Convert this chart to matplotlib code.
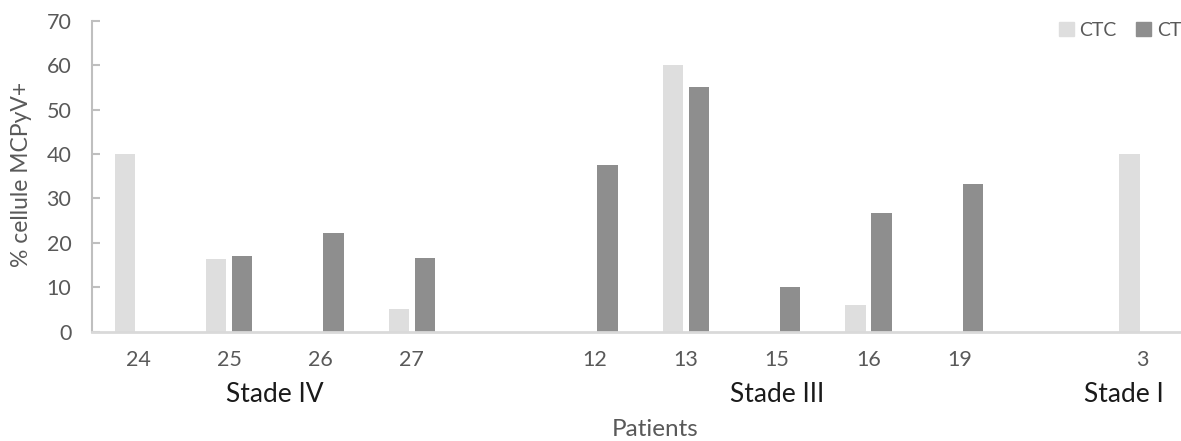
import matplotlib
matplotlib.use("Agg")
import matplotlib.pyplot as plt
import matplotlib.transforms as mtransforms
from matplotlib.patches import Patch

# ---- data ----
patients = ['24', '25', '26', '27', '12', '13', '15', '16', '19', '3']
stages = ['Stade IV'] * 4 + ['Stade III'] * 5 + ['Stade I']
ctc = [40, 16.4, 0, 5, 0, 60, 0, 6, 0, 40]
ct = [0, 17, 22.2, 16.7, 37.5, 55, 10, 26.7, 33.3, 0]
y_ticks = [0, 10, 20, 30, 40, 50, 60, 70]

plt.rcParams['font.family'] = ['Lato', 'DejaVu Sans']

W, H = 1181, 441
fig = plt.figure(figsize=(W / 100, H / 100), dpi=100)
ax = fig.add_axes([92.3 / W, 1 - 331.7 / H, (1188 - 92.3) / W, (331.7 - 20.8) / H])

# slot positions: one empty slot between stage groups
pos = []
slot = 0
for i, s in enumerate(stages):
    if i > 0 and s != stages[i - 1]:
        slot += 1
    pos.append(slot)
    slot += 1
n_slots = slot

bw = 0.223
off = 0.1425
c_ctc = '#dedede'
c_ct = '#8e8e8e'
ax.bar([p - off for p in pos], ctc, width=bw, color=c_ctc, label='CTC', zorder=2)
ax.bar([p + off for p in pos], ct, width=bw, color=c_ct, label='CT', zorder=2)

ax.set_xlim(-0.5, n_slots - 0.5)
ax.set_ylim(0, 70)
ax.set_yticks(y_ticks)
ax.set_xticks(pos)
ax.set_xticklabels(patients)

for side in ['top', 'right']:
    ax.spines[side].set_visible(False)
ax.spines['left'].set_color('#bfbfbf')
ax.spines['left'].set_linewidth(1.5)
ax.spines['bottom'].set_color('#d9d9d9')
ax.spines['bottom'].set_linewidth(2)
ax.spines['bottom'].set_zorder(3)

ax.tick_params(axis='y', direction='in', length=5.5, width=1.5, color='#bfbfbf',
               labelsize=15.5, labelcolor='#595959', pad=15)
ax.tick_params(axis='x', length=0, labelsize=15.5, labelcolor='#595959', pad=13)

# stage group labels
trans = mtransforms.blended_transform_factory(ax.transData, fig.transFigure)
stage_names = []
for s in stages:
    if s not in stage_names:
        stage_names.append(s)
stage_x_adj = {'Stade I': -0.2}
for s in stage_names:
    ps = [p for p, st in zip(pos, stages) if st == s]
    xc = (min(ps) + max(ps)) / 2 + stage_x_adj.get(s, 0)
    ax.text(xc, 1 - 394 / H, s, transform=trans, ha='center', va='center',
            fontsize=19, color='#1a1a1a')

fig.text(22 / W, 1 - 174 / H, '% cellule MCPyV+', rotation=90, ha='center', va='center',
         fontsize=16.5, color='#595959')
fig.text(655 / W, 1 - 430 / H, 'Patients', ha='center', va='center',
         fontsize=17.5, color='#595959')

handles = [Patch(color=c_ctc, label='CTC'), Patch(color=c_ct, label='CT')]
fig.legend(handles=handles, loc='upper right', bbox_to_anchor=(1181 / W, 1 - 22 / H),
           ncol=2, frameon=False, fontsize=14, labelcolor='#595959',
           handlelength=0.75, handleheight=0.75, handletextpad=0.3, columnspacing=1.0,
           borderpad=0.0, borderaxespad=0.0)

fig.savefig('out.png', dpi=100)
